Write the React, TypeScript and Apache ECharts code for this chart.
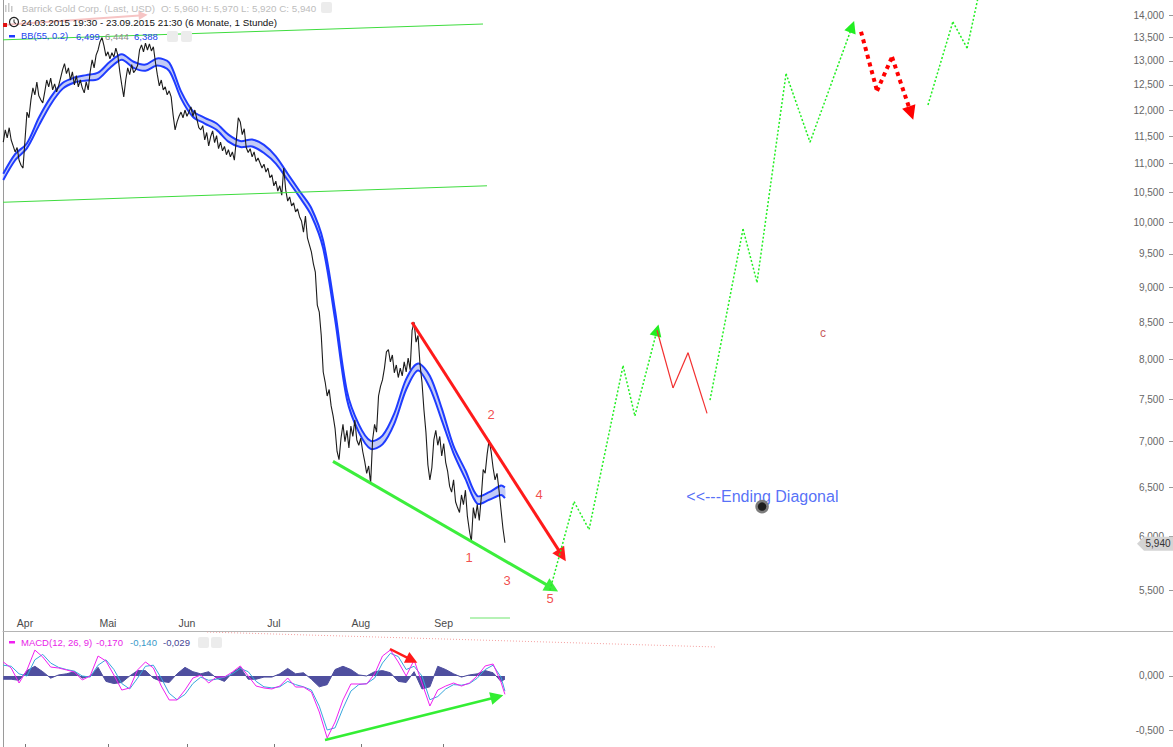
import React, { useEffect, useRef } from "react";
import * as echarts from "echarts";

const FONT = '"Liberation Sans", Arial, Helvetica, sans-serif';

// ---- price (hourly closes, read every half trading day from 24.03.2015) ----
const priceVals = [
  11.39, 11.62, 11.47, 11.66, 11.43, 11.32, 11.21, 11.29, 11.06, 10.97,
  10.92, 11.43, 11.96, 11.85, 12.2, 12.44, 12.3, 12.56, 12.28, 12.2,
  12.14, 12.36, 12.6, 12.46, 12.64, 12.4, 12.52, 12.36, 12.48, 12.64,
  12.81, 12.94, 12.73, 12.85, 12.6, 12.77, 12.5, 12.69, 12.46, 12.6,
  12.44, 12.34, 12.56, 12.4, 12.77, 13.02, 12.85, 13.12, 13.23, 13.41,
  13.5, 13.32, 13.1, 13.19, 13.04, 13.17, 13.08, 13.27, 13.12, 12.77,
  12.5, 12.26, 12.6, 12.85, 12.71, 12.92, 12.75, 12.81, 12.9, 13.23,
  13.34, 13.19, 13.38, 13.23, 13.36, 13.21, 13.3, 12.98, 12.71, 12.48,
  12.6, 12.4, 12.46, 12.3, 12.38, 12.26, 11.9, 11.62, 11.77, 11.88,
  11.96, 11.85, 12.0, 11.88, 11.96, 12.06, 11.88, 12.0, 11.83, 11.66,
  11.62, 11.7, 11.43, 11.57, 11.32, 11.49, 11.6, 11.38, 11.51, 11.27,
  11.39, 11.23, 11.31, 11.16, 11.25, 11.12, 11.21, 11.06, 11.43, 11.85,
  11.77, 11.53, 11.64, 11.29, 11.2, 11.27, 11.12, 11.21, 11.04, 11.1,
  11.01, 10.92, 10.99, 10.85, 10.92, 10.75, 10.8, 10.61, 10.69, 10.52,
  10.61, 10.45, 10.92, 10.54, 10.35, 10.42, 10.27, 10.32, 10.17, 10.22,
  10.09, 10.02, 9.84, 10.1, 9.75, 9.64, 9.53, 9.35, 9.22, 8.74,
  8.64, 8.32, 7.84, 7.71, 7.54, 7.62, 7.42, 7.3, 7.15, 6.89,
  6.8, 7.04, 7.2, 7.0, 7.13, 6.93, 7.18, 7.06, 7.25, 7.02,
  6.96, 7.04, 6.89, 6.78, 6.65, 6.73, 6.54, 7.02, 7.2, 7.11,
  7.54, 7.66, 7.74, 7.89, 8.1, 8.13, 7.97, 8.06, 7.83, 7.93,
  7.77, 7.89, 7.79, 7.97, 7.84, 8.02, 7.87, 8.39, 8.5, 8.23,
  8.32, 7.94, 7.71, 7.37, 7.11, 6.74, 6.58, 6.71, 7.02, 7.13,
  6.96, 7.06, 6.84, 6.98, 6.77, 6.67, 6.51, 6.45, 6.58, 6.35,
  6.29, 6.24, 6.42, 6.32, 6.47, 6.2, 6.06, 5.95, 6.29, 6.18,
  6.32, 6.16, 6.39, 6.69, 6.65, 6.86, 7.02, 6.89, 6.71, 6.58,
  6.65, 6.47, 6.27, 6.08, 5.94,
];
const priceStartDay = 0.5;
const priceStepDay = 0.5;
const lastClose = 5.94;

// ---- Bollinger band BB(55, 0.2), read every 3 trading days ----
const bbUpper = [
  10.82, 11.17, 11.37, 11.85, 12.25, 12.54, 12.65, 12.7, 12.75, 12.98,
  13.14, 12.98, 12.92, 13.05, 12.96, 12.37, 11.98, 11.85, 11.74, 11.53,
  11.41, 11.44, 11.34, 11.13, 10.82, 10.52, 10.23, 9.7, 8.66, 7.6,
  7.2, 7.01, 7.07, 7.33, 7.75, 7.95, 7.79, 7.39, 6.95, 6.68,
  6.41, 6.45, 6.52, 6.499,
];
const bbLower = [
  10.71, 11.06, 11.28, 11.7, 12.11, 12.42, 12.55, 12.59, 12.62, 12.85,
  13.02, 12.85, 12.79, 12.9, 12.79, 12.23, 11.87, 11.74, 11.62, 11.4,
  11.3, 11.31, 11.19, 11.0, 10.71, 10.42, 10.11, 9.58, 8.54, 7.5,
  7.11, 6.92, 6.97, 7.21, 7.62, 7.86, 7.64, 7.25, 6.87, 6.59,
  6.33, 6.37, 6.42, 6.388,
];
const bbDays = [
  0.5, 3.5, 6.5, 9.5, 12.5, 15.5, 18.5, 21.5, 24.5, 27.5,
  30.5, 33.5, 36.5, 39.5, 42.5, 45.5, 48.5, 51.5, 54.5, 57.5,
  60.5, 63.5, 66.5, 69.5, 72.5, 75.5, 78.5, 81.5, 84.5, 87.5,
  90.5, 93.5, 96.5, 99.5, 102.5, 105.5, 108.5, 111.5, 114.5, 117.5,
  120.5, 123.5, 126.5, 127.5,
];

// ---- MACD(12, 26, 9), read every 2 trading days ----
const macdVals = [
  0.13, 0.074, -0.065, 0.056, 0.24, 0.176, 0.083, 0.074, 0.056, 0.037,
  -0.037, 0.0, 0.185, 0.139, 0.009, -0.13, -0.111, 0.056, 0.13, 0.074,
  -0.093, -0.222, -0.222, -0.13, -0.019, 0.009, -0.065, -0.009, -0.009, 0.037,
  0.093, 0.0, -0.093, -0.111, -0.12, -0.093, -0.019, -0.102, -0.102, -0.148,
  -0.333, -0.574, -0.426, -0.222, -0.074, -0.074, -0.074, 0.019, 0.185, 0.241,
  0.13, 0.0, 0.148, -0.065, -0.278, -0.13, -0.093, -0.065, -0.093, -0.065,
  0.0, 0.093, 0.111, -0.056, -0.17,
];
const signalVals = [
  0.1, 0.09, 0.02, 0.0, 0.15, 0.2, 0.12, 0.08, 0.06, 0.045,
  0.0, -0.01, 0.1, 0.15, 0.06, -0.07, -0.12, -0.02, 0.09, 0.1,
  -0.02, -0.16, -0.22, -0.17, -0.07, -0.01, -0.04, -0.03, -0.01, 0.02,
  0.07, 0.04, -0.05, -0.1, -0.11, -0.1, -0.05, -0.08, -0.1, -0.13,
  -0.28, -0.5, -0.48, -0.3, -0.14, -0.08, -0.07, -0.02, 0.12, 0.21,
  0.18, 0.06, 0.09, 0.0, -0.22, -0.19, -0.12, -0.08, -0.085, -0.07,
  -0.02, 0.06, 0.1, -0.01, -0.14,
];
const histVals = [
  -0.03, -0.03, -0.04, 0.05, 0.09, 0.04, -0.02, 0.01, 0.02, 0.04,
  -0.02, 0.0, 0.08, -0.05, -0.07, -0.06, 0.0, 0.05, 0.05, -0.02,
  -0.05, -0.06, 0.02, 0.08, 0.04, 0.02, 0.04, -0.02, -0.05, 0.03,
  0.08, -0.03, -0.03, -0.01, -0.01, 0.02, 0.07, 0.02, 0.03, -0.03,
  -0.1, -0.08, 0.06, 0.09, 0.06, 0.01, 0.0, 0.04, 0.05, 0.03,
  -0.05, -0.06, 0.04, -0.12, -0.1, 0.09, 0.06, 0.02, -0.01, 0.01,
  0.02, 0.05, 0.03, -0.05, -0.029,
];
const macdDays = [
  0.5, 2.5, 4.5, 6.5, 8.5, 10.5, 12.5, 14.5, 16.5, 18.5,
  20.5, 22.5, 24.5, 26.5, 28.5, 30.5, 32.5, 34.5, 36.5, 38.5,
  40.5, 42.5, 44.5, 46.5, 48.5, 50.5, 52.5, 54.5, 56.5, 58.5,
  60.5, 62.5, 64.5, 66.5, 68.5, 70.5, 72.5, 74.5, 76.5, 78.5,
  80.5, 82.5, 84.5, 86.5, 88.5, 90.5, 92.5, 94.5, 96.5, 98.5,
  100.5, 102.5, 104.5, 106.5, 108.5, 110.5, 112.5, 114.5, 116.5, 118.5,
  120.5, 122.5, 124.5, 126.5, 127.5,
];

// ---- axes ----
const monthNames = ["Apr", "Mai", "Jun", "Jul", "Aug", "Sep"];
const monthDays = [6, 27, 47, 69, 91, 112];
const priceTicks = [5.5, 6, 6.5, 7, 7.5, 8, 8.5, 9, 9.5, 10, 10.5, 11, 11.5, 12, 12.5, 13, 13.5, 14];
const macdTicks = [0, -0.5];
const X_MIN = 0.43;
const X_MAX = 296.63;
const P_MIN = 5.1468; // price at bottom of main pane
const P_MAX = 14.3493; // price at top of main pane
const MACD_MIN = -0.6574;
const MACD_MAX = 0.4074;

// ---- drawings, as [trading day, price] ----
type Pt = [number, number];
const channelTop: Pt[] = [[0.43, 13.45], [121.95, 13.8]];
const channelBottom: Pt[] = [[0.43, 10.33], [122.96, 10.61]];
const wedgeUpper: Pt[] = [[103.97, 8.5], [141.95, 5.82]];
const wedgeLower: Pt[] = [[83.97, 6.78], [139.42, 5.52]];
const projGreen1: Pt[] = [[138.9, 5.5], [145.0, 6.35], [148.8, 6.07], [157.4, 7.92], [160.4, 7.3], [166.0, 8.39]];
const projRed1: Pt[] = [[166.0, 8.39], [170.05, 7.64], [173.85, 8.09], [178.66, 7.33]];
const projGreen2: Pt[] = [[179.42, 7.49], [187.78, 9.89], [191.32, 9.07], [198.67, 12.73], [204.74, 11.39], [215.38, 13.74]];
const projRed2: Pt[] = [[217.65, 13.63], [221.7, 12.38], [225.5, 13.08], [230.3, 11.94]];
const projGreen3: Pt[] = [[234.6, 12.1], [240.9, 13.85], [244.5, 13.27], [247.8, 14.63]];
const fadedArrow: Pt[] = [[0.43, 13.78], [35.9, 14.0]];
const faintGreen: Pt[] = [[118.66, 5.26], [128.78, 5.26]];
const waveNames = ["1", "2", "3", "4", "5"];
const waveDays = [118.4, 123.98, 128.03, 136.13, 138.91];
const wavePrices = [5.8, 7.32, 5.59, 6.42, 5.43];
const cLabel: Pt = [208.0, 8.35];
const noteText = "<<---Ending Diagonal";
const notePos: Pt = [173.3, 6.4];
const dotPos: Pt = [192.6, 6.3];
// MACD pane drawings as [trading day, macd]
const macdRedArrow: Pt[] = [[98.4, 0.25], [103.97, 0.148]];
const macdGreenArrow: Pt[] = [[81.95, -0.593], [125.5, -0.194]];
const macdRedDotted: Pt[] = [[52.1, 0.407], [180.7, 0.269]];

const L = Math.log;
const fmt3 = (v: number) => v.toFixed(3).replace(".", ",");

function segs(pts: Pt[], arrow: boolean, logY: boolean) {
  const out: any[] = [];
  for (let i = 0; i < pts.length - 1; i++) {
    const a = pts[i];
    const b = pts[i + 1];
    const last = i === pts.length - 2;
    out.push({
      coords: [
        [a[0], logY ? L(a[1]) : a[1]],
        [b[0], logY ? L(b[1]) : b[1]],
      ],
      symbol: arrow && last ? ["none", "triangle"] : ["none", "none"],
    });
  }
  return out;
}

function linesSeries(data: any[], color: string, width: number, type: any, pane: number, size = 12) {
  return {
    type: "lines",
    coordinateSystem: "cartesian2d",
    xAxisIndex: pane === 0 ? 0 : 1,
    yAxisIndex: pane === 0 ? 0 : 2,
    data,
    symbol: ["none", "none"],
    symbolSize: size,
    lineStyle: { color, width, type, opacity: 1, curveness: 0, cap: "butt" },
    itemStyle: { color },
    silent: true,
    z: 5,
  };
}

const LEG = 9.7;
function txt(x: number, y: number, text: string, fill: string, size = LEG) {
  return {
    type: "text",
    x,
    y,
    z: 100,
    silent: true,
    style: { text, fill, fontSize: size, fontFamily: FONT, verticalAlign: "middle", align: "left" },
  };
}

function iconBox(x: number, y: number) {
  return { type: "rect", z: 100, silent: true, shape: { x, y, width: 11, height: 11, r: 2 }, style: { fill: "#ececec" } };
}

export default function App() {
  const ref = useRef<HTMLDivElement>(null);

  useEffect(() => {
    if (!ref.current) return;
    const chart = echarts.init(ref.current, undefined, { renderer: "svg" });

    const yMin = L(P_MIN);
    const yMax = L(P_MAX);
    const monthFmt = (v: number) => {
      const i = monthDays.findIndex((d) => Math.abs(d - v) < 0.01);
      return i >= 0 ? monthNames[i] : "";
    };

    const priceData = priceVals.map((p, i) => [priceStartDay + priceStepDay * i, L(p)]);

    const bbRender = (_params: any, api: any) => {
      const up = bbUpper.map((p, k) => api.coord([bbDays[k], L(p)]));
      const lo = bbLower.map((p, k) => api.coord([bbDays[k], L(p)]));
      const loRev = lo.slice().reverse();
      return {
        type: "group",
        children: [
          { type: "polygon", shape: { points: up.concat(loRev), smooth: 0.3 }, style: { fill: "#c3cbf6", stroke: "none" } },
          { type: "polyline", shape: { points: up, smooth: 0.3 }, style: { fill: "none", stroke: "#1f3cff", lineWidth: 2 } },
          { type: "polyline", shape: { points: lo, smooth: 0.3 }, style: { fill: "none", stroke: "#1f3cff", lineWidth: 2 } },
        ],
      };
    };

    const option: any = {
      animation: false,
      backgroundColor: "#ffffff",
      textStyle: { fontFamily: FONT },
      grid: [
        { left: 3, right: 0, top: 0, height: 631, outerBoundsMode: "none", containLabel: false },
        { left: 3, right: 0, top: 632, height: 115, outerBoundsMode: "none", containLabel: false },
      ],
      xAxis: [
        {
          type: "value",
          gridIndex: 0,
          min: X_MIN,
          max: X_MAX,
          axisLine: { show: true, onZero: false, lineStyle: { color: "#b4b4b4", width: 1 } },
          axisTick: { show: false },
          splitLine: { show: false },
          axisLabel: {
            inside: true,
            margin: 3,
            color: "#4a4a4a",
            fontSize: 10.5,
            fontFamily: FONT,
            customValues: monthDays,
            formatter: monthFmt,
          },
        },
        {
          type: "value",
          gridIndex: 1,
          min: X_MIN,
          max: X_MAX,
          axisLine: { show: false, onZero: false },
          axisTick: { show: true, inside: true, length: 3, customValues: monthDays, lineStyle: { color: "#777" } },
          splitLine: { show: false },
          axisLabel: { show: false },
        },
      ],
      yAxis: [
        {
          type: "value",
          gridIndex: 0,
          position: "right",
          min: yMin,
          max: yMax,
          axisLine: { show: false },
          splitLine: { show: false },
          axisTick: { show: true, inside: true, length: 4, customValues: priceTicks.map(L), lineStyle: { color: "#999" } },
          axisLabel: {
            inside: true,
            margin: 9,
            color: "#666",
            fontSize: 10,
            fontFamily: FONT,
            customValues: priceTicks.map(L),
            formatter: (v: number) => fmt3(Math.exp(v)),
          },
        },
        {
          type: "value",
          gridIndex: 0,
          position: "left",
          min: yMin,
          max: yMax,
          axisLine: { show: true, lineStyle: { color: "#9a9a9a", width: 1 } },
          axisTick: { show: false },
          axisLabel: { show: false },
          splitLine: { show: false },
        },
        {
          type: "value",
          gridIndex: 1,
          position: "right",
          min: MACD_MIN,
          max: MACD_MAX,
          axisLine: { show: false },
          splitLine: { show: false },
          axisTick: { show: true, inside: true, length: 4, customValues: macdTicks, lineStyle: { color: "#999" } },
          axisLabel: {
            inside: true,
            margin: 9,
            color: "#666",
            fontSize: 10,
            fontFamily: FONT,
            customValues: macdTicks,
            formatter: (v: number) => fmt3(v),
          },
        },
        {
          type: "value",
          gridIndex: 1,
          position: "left",
          min: MACD_MIN,
          max: MACD_MAX,
          axisLine: { show: true, lineStyle: { color: "#9a9a9a", width: 1 } },
          axisTick: { show: false },
          axisLabel: { show: false },
          splitLine: { show: false },
        },
      ],
      series: [
        // Bollinger band (fill + both bounds) through the axis scales
        {
          type: "custom",
          name: "BB",
          xAxisIndex: 0,
          yAxisIndex: 0,
          silent: true,
          z: 2,
          data: [[bbDays[0], L(bbUpper[0])]],
          renderItem: bbRender,
        },
        // price
        {
          type: "line",
          name: "price",
          xAxisIndex: 0,
          yAxisIndex: 0,
          data: priceData,
          showSymbol: false,
          lineStyle: { color: "#1c1c1c", width: 1.1 },
          z: 3,
          silent: true,
          markPoint: {
            silent: true,
            symbol: "path://M0,7L7,0L36,0L36,14L7,14Z",
            symbolSize: [36, 14],
            symbolOffset: ["-50%", 1],
            itemStyle: { color: "#d4d4d4" },
            label: { show: true, color: "#333", fontSize: 10, fontFamily: FONT, formatter: fmt3(lastClose), offset: [3, 0] },
            data: [{ coord: [X_MAX, L(lastClose)] }],
          },
        },
        // channel lines
        linesSeries([...segs(channelTop, false, true), ...segs(channelBottom, false, true)], "#3fdc3f", 1, "solid", 0),
        // wedge
        linesSeries(segs(wedgeUpper, true, true), "#ff1a1a", 3, "solid", 0, 14),
        linesSeries(segs(wedgeLower, true, true), "#3cee3c", 3, "solid", 0, 14),
        // projections
        linesSeries([...segs(projGreen1, true, true), ...segs(projGreen2, true, true), ...segs(projGreen3, false, true)], "#22ee22", 1.5, [2, 2], 0, 12),
        linesSeries(segs(projRed1, false, true), "#f23030", 1.2, "solid", 0),
        linesSeries(segs(projRed2, true, true), "#ff0000", 4, [4, 4], 0, 14),
        linesSeries(segs(fadedArrow, true, true), "#f6c4c4", 2, "solid", 0, 9),
        linesSeries(segs(faintGreen, false, true), "#b6f2b6", 2, "solid", 0),
        // wave labels
        {
          type: "scatter",
          xAxisIndex: 0,
          yAxisIndex: 0,
          symbolSize: 1,
          itemStyle: { color: "rgba(0,0,0,0)" },
          silent: true,
          z: 6,
          data: waveNames.map((n, i) => ({ name: n, value: [waveDays[i], L(wavePrices[i])] })),
          label: { show: true, position: "inside", formatter: "{b}", color: "#ee2020", fontSize: 13, fontFamily: FONT },
        },
        {
          type: "scatter",
          xAxisIndex: 0,
          yAxisIndex: 0,
          symbolSize: 1,
          itemStyle: { color: "rgba(0,0,0,0)" },
          silent: true,
          z: 6,
          data: [{ name: "c", value: [cLabel[0], L(cLabel[1])] }],
          label: { show: true, position: "inside", formatter: "{b}", color: "#b83030", fontSize: 12, fontFamily: FONT },
        },
        {
          type: "scatter",
          xAxisIndex: 0,
          yAxisIndex: 0,
          symbolSize: 1,
          itemStyle: { color: "rgba(0,0,0,0)" },
          silent: true,
          z: 6,
          data: [{ name: noteText, value: [notePos[0], L(notePos[1])] }],
          label: { show: true, position: "right", distance: 0, formatter: "{b}", color: "#2a4bf5", fontSize: 16, fontFamily: FONT },
        },
        {
          type: "scatter",
          xAxisIndex: 0,
          yAxisIndex: 0,
          symbol: "circle",
          symbolSize: 11,
          itemStyle: { color: "#1e1e1e", borderColor: "#7c7c7c", borderWidth: 2.5, opacity: 1 },
          silent: true,
          z: 7,
          data: [[dotPos[0], L(dotPos[1])]],
        },
        // MACD pane
        {
          type: "line",
          name: "hist",
          xAxisIndex: 1,
          yAxisIndex: 2,
          data: histVals.map((v, k) => [macdDays[k], v]),
          showSymbol: false,
          lineStyle: { color: "#4f4f9f", width: 1 },
          areaStyle: { color: "#4f4f9f", opacity: 1, origin: "auto" },
          z: 2,
          silent: true,
        },
        {
          type: "line",
          name: "signal",
          xAxisIndex: 1,
          yAxisIndex: 2,
          data: signalVals.map((v, k) => [macdDays[k], v]),
          showSymbol: false,
          lineStyle: { color: "#37a6dc", width: 1 },
          z: 3,
          silent: true,
        },
        {
          type: "line",
          name: "macd",
          xAxisIndex: 1,
          yAxisIndex: 2,
          data: macdVals.map((v, k) => [macdDays[k], v]),
          showSymbol: false,
          lineStyle: { color: "#f020f0", width: 1 },
          z: 4,
          silent: true,
        },
        linesSeries(segs(macdRedArrow, true, false), "#ff1a1a", 2.5, "solid", 1, 12),
        linesSeries(segs(macdGreenArrow, true, false), "#33ee33", 2.5, "solid", 1, 13),
        linesSeries(segs(macdRedDotted, false, false), "#f4a0a0", 1, [1, 2], 1, 8),
      ],
      graphic: [
        // line 1
        { type: "rect", z: 100, silent: true, shape: { x: 5, y: 5, width: 1.5, height: 7 }, style: { fill: "#c8c8c8" } },
        { type: "rect", z: 100, silent: true, shape: { x: 8, y: 3, width: 1.5, height: 9 }, style: { fill: "#c8c8c8" } },
        { type: "rect", z: 100, silent: true, shape: { x: 11, y: 6, width: 1.5, height: 6 }, style: { fill: "#c8c8c8" } },
        txt(22, 8, "Barrick Gold Corp. (Last, USD)", "#bdbdbd"),
        txt(161, 8, "O: 5,960 H: 5,970 L: 5,920 C: 5,940", "#bdbdbd", 9.8),
        iconBox(321, 2),
        // line 2
        { type: "rect", z: 100, silent: true, shape: { x: 3, y: 23, width: 4, height: 4 }, style: { fill: "#e01010" } },
        { type: "circle", z: 100, silent: true, shape: { cx: 14, cy: 22, r: 4.5 }, style: { fill: "none", stroke: "#222", lineWidth: 1.2 } },
        { type: "line", z: 100, silent: true, shape: { x1: 14, y1: 19.5, x2: 14, y2: 22.5 }, style: { stroke: "#222", lineWidth: 1 } },
        { type: "line", z: 100, silent: true, shape: { x1: 14, y1: 22.5, x2: 16, y2: 23.5 }, style: { stroke: "#222", lineWidth: 1 } },
        txt(21, 22, "24.03.2015 19:30 - 23.09.2015 21:30 (6 Monate, 1 Stunde)", "#111", 9.8),
        // line 3
        { type: "rect", z: 100, silent: true, shape: { x: 9, y: 35, width: 6, height: 2.5 }, style: { fill: "#1f3cff" } },
        txt(21, 36, "BB(55, 0.2)", "#2244ee", 9.3),
        txt(76, 36, "6,499", "#2244ee", 9.5),
        txt(105, 36, "6,444", "#8a8a8a", 9.5),
        txt(134, 36, "6,388", "#2244ee", 9.5),
        iconBox(167, 31),
        iconBox(181, 31),
        // MACD legend
        { type: "rect", z: 100, silent: true, shape: { x: 9, y: 641, width: 6, height: 2.5 }, style: { fill: "#f020f0" } },
        txt(21, 642, "MACD(12, 26, 9)", "#e81ee8", 9.5),
        txt(96, 642, "-0,170", "#e81ee8", 9.5),
        txt(130, 642, "-0,140", "#3898c8", 9.5),
        txt(163, 642, "-0,029", "#454595", 9.5),
        iconBox(198, 637),
        iconBox(211, 637),
      ],
    };

    chart.setOption(option);
    return () => chart.dispose();
  }, []);

  return (
    <div
      ref={ref}
      style={{ position: "absolute", left: 0, top: 0, width: 1173, height: 747, background: "#fff" }}
    />
  );
}
